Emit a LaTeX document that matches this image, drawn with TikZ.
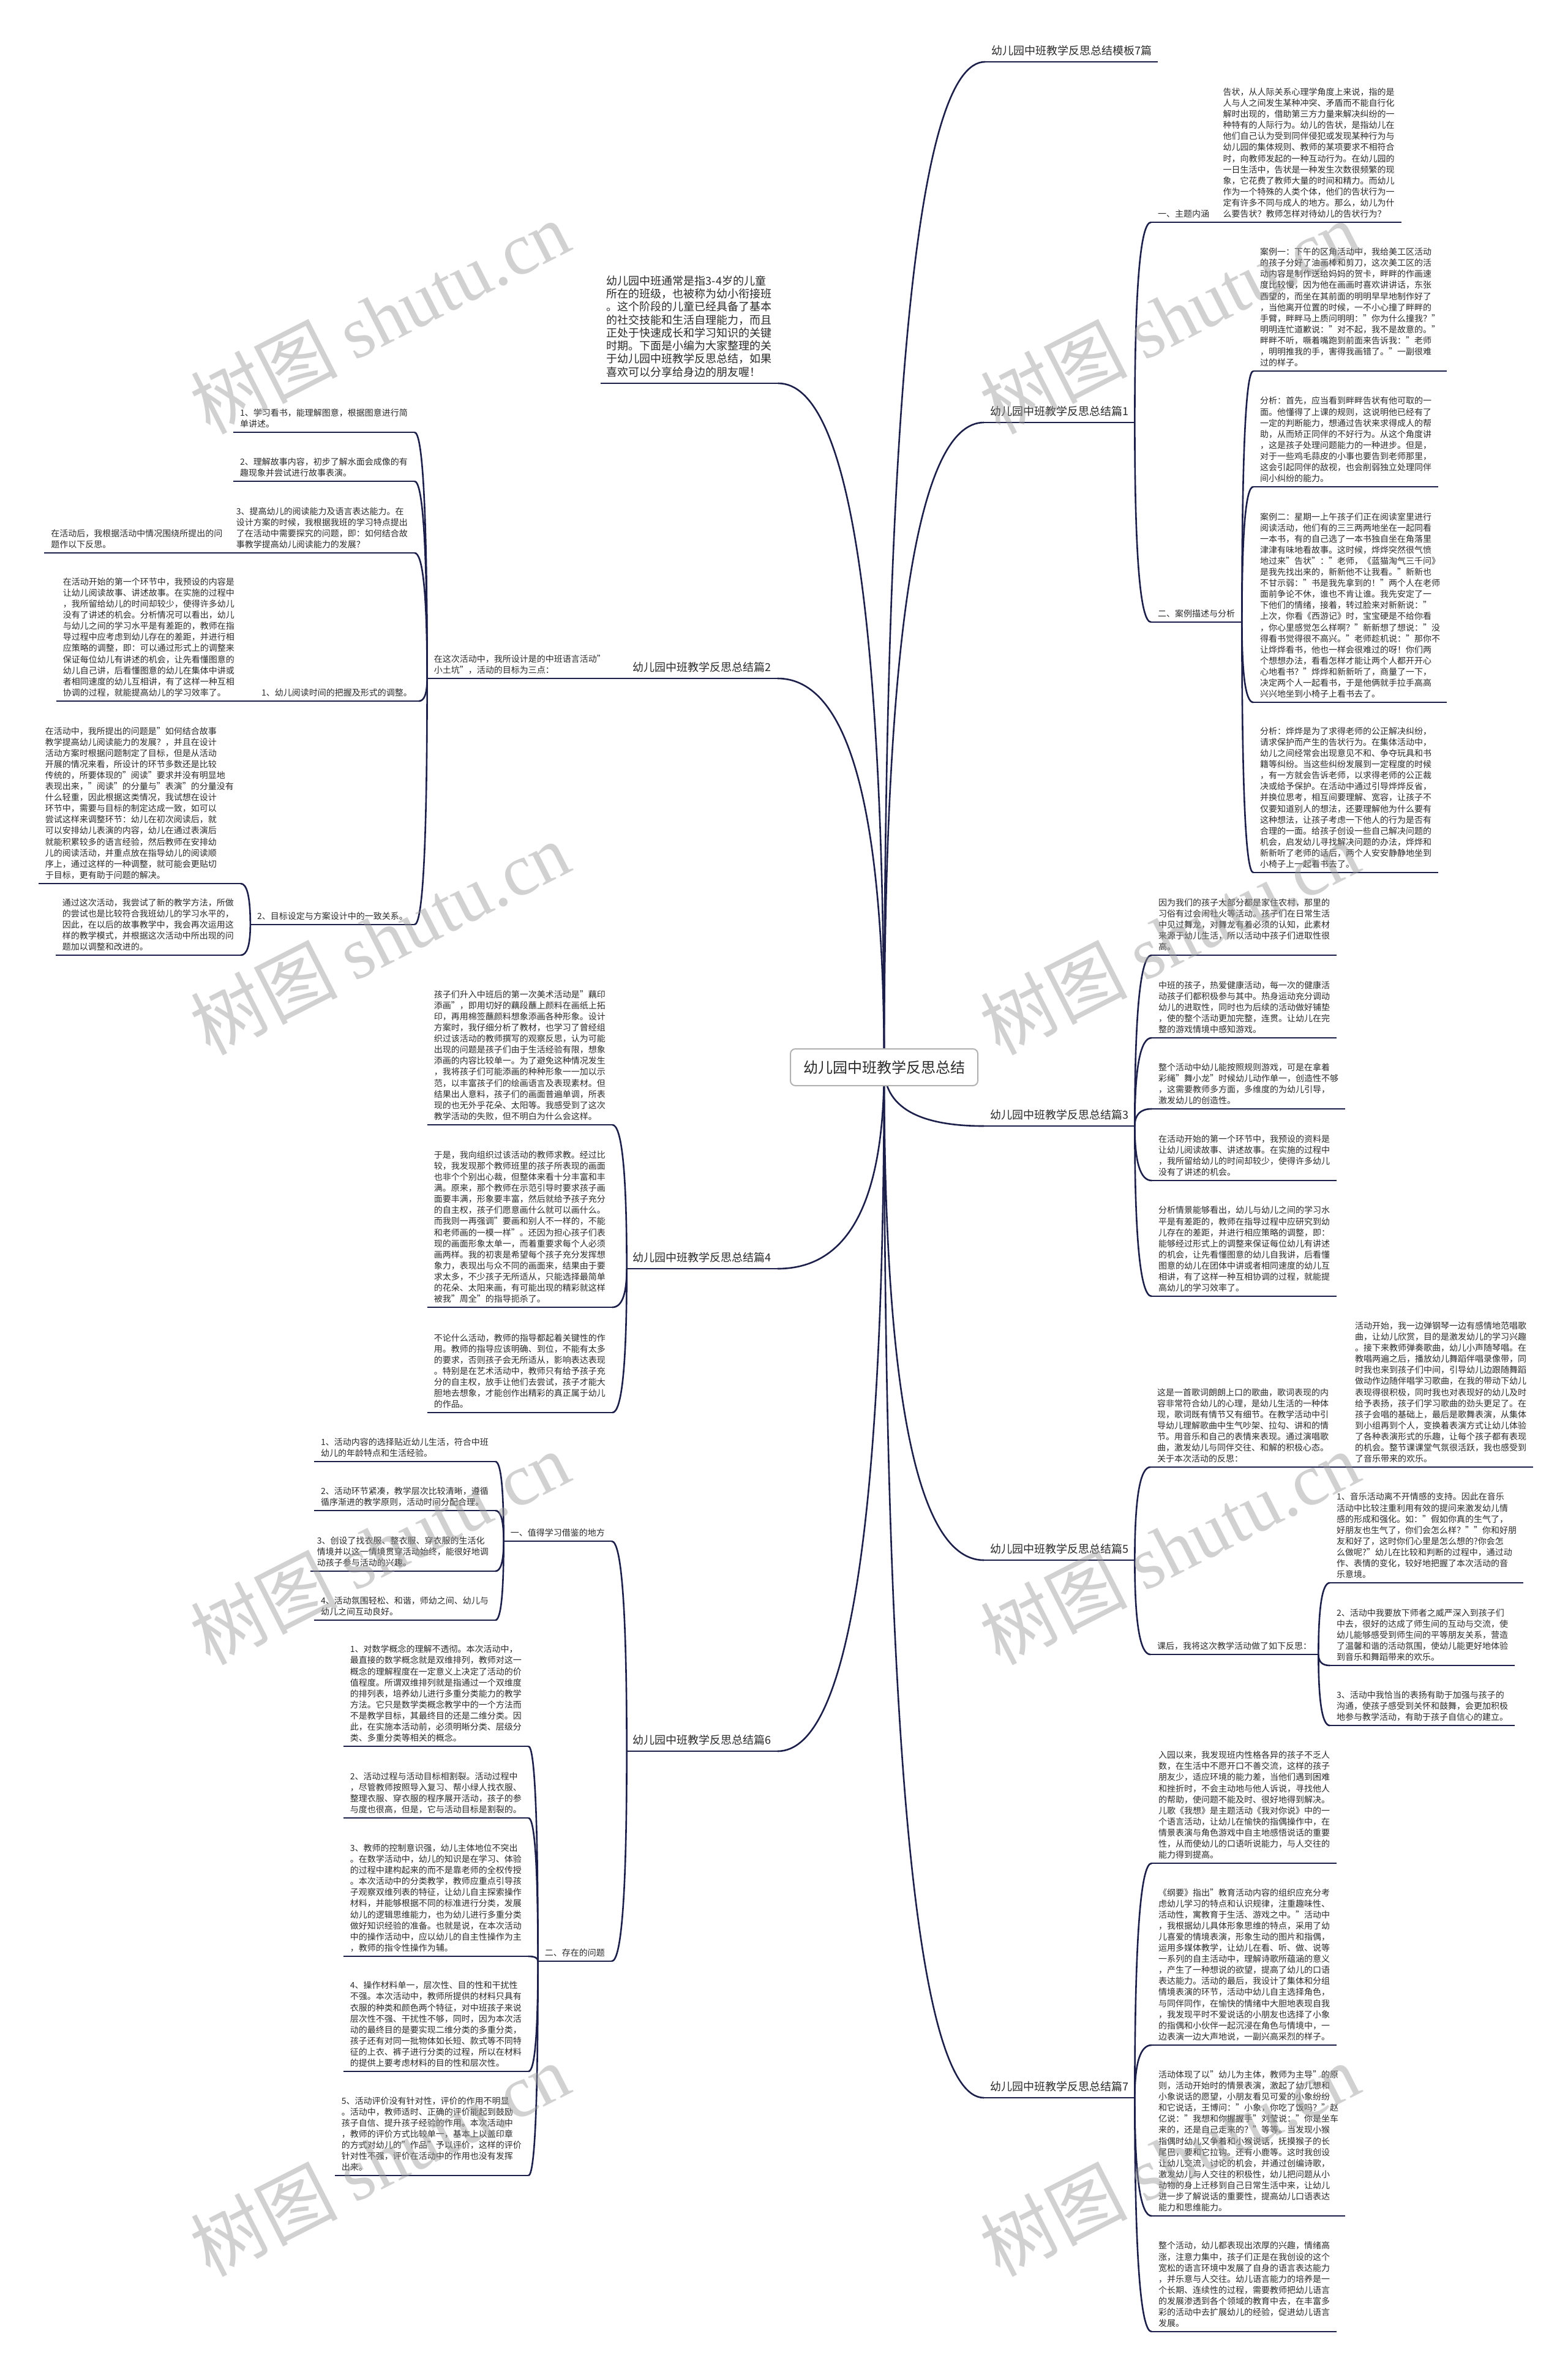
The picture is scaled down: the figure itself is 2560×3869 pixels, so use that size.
\documentclass[tikz,border=0pt]{standalone}
\usepackage{fontspec}
\setmainfont{Noto Sans CJK SC}
\newfontfamily\wmlatin{Liberation Serif}
\usetikzlibrary{calc,backgrounds}

\definecolor{navy}{HTML}{1C1F4A}
\definecolor{ink}{HTML}{2B2B2B}

\newcommand\fbig{\fontsize{24}{28}\selectfont}
\newcommand\fmid{\fontsize{18}{21.3}\selectfont}
\newcommand\fsml{\fontsize{14}{18.1}\selectfont}

\begin{document}
\begin{tikzpicture}[x=1pt,y=-1pt,
    wire/.style={draw=navy,line width=2.6pt},
    branch/.style={to path={.. controls ($(\tikztostart)!0.6667!(\tikztostart|-\tikztotarget)$) and ($(\tikztotarget)!0.6667!(\tikztostart|-\tikztotarget)$) .. (\tikztotarget)}},
    root/.style={draw=gray!60,line width=2pt,rounded corners=8pt,fill=white,text=ink,font=\fbig,minimum width=306pt,minimum height=60pt},
    leafr/.style={anchor=south west,align=left,text=ink,font=\fsml,inner xsep=11pt,inner ysep=7pt},
    leafl/.style={leafr,anchor=south east},
    mainr/.style={leafr,font=\fmid,inner xsep=10pt,inner ysep=10pt},
    mainl/.style={mainr,anchor=south east},
    wmark/.style={text=black!40,text opacity=0.45,rotate=27,font=\fontsize{120}{120}\selectfont}]
\useasboundingbox (0,0) rectangle (2560,3869);

% centre
\node[root] (root) at (1444,1743) {幼儿园中班教学反思总结};

% title and intro
\node[mainr] (r0) at (1609,101) {幼儿园中班教学反思总结模板7篇};
\node[mainl] (intro) at (1271,626) {幼儿园中班通常是指3-4岁的儿童\\所在的班级，也被称为幼小衔接班\\。这个阶段的儿童已经具备了基本\\的社交技能和生活自理能力，而且\\正处于快速成长和学习知识的关键\\时期。下面是小编为大家整理的关\\于幼儿园中班教学反思总结，如果\\喜欢可以分享给身边的朋友喔！};

% piece 1
\node[mainr] (r1) at (1607,690) {幼儿园中班教学反思总结篇1};
\node[leafr] (r1a) at (1880,363) {一、主题内涵};
\node[leafr] (r1a1) at (r1a.south east) {告状，从人际关系心理学角度上来说，指的是\\人与人之间发生某种冲突、矛盾而不能自行化\\解时出现的，借助第三方力量来解决纠纷的一\\种特有的人际行为。幼儿的告状，是指幼儿在\\他们自己认为受到同伴侵犯或发现某种行为与\\幼儿园的集体规则、教师的某项要求不相符合\\时，向教师发起的一种互动行为。在幼儿园的\\一日生活中，告状是一种发生次数很频繁的现\\象，它花费了教师大量的时间和精力。而幼儿\\作为一个特殊的人类个体，他们的告状行为一\\定有许多不同与成人的地方。那么，幼儿为什\\么要告状？教师怎样对待幼儿的告状行为？};
\node[leafr] (r1b) at (1880,1016) {二、案例描述与分析};
\node[leafr] (r1b1) at (2047,606) {案例一：下午的区角活动中，我给美工区活动\\的孩子分好了油画棒和剪刀，这次美工区的活\\动内容是制作送给妈妈的贺卡，畔畔的作画速\\度比较慢，因为他在画画时喜欢讲讲话，东张\\西望的，而坐在其前面的明明早早地制作好了\\，当他离开位置的时候，一不小心撞了畔畔的\\手臂，畔畔马上质问明明："你为什么撞我？"\\明明连忙道歉说："对不起，我不是故意的。"\\畔畔不听，噘着嘴跑到前面来告诉我："老师\\，明明推我的手，害得我画错了。"一副很难\\过的样子。};
\node[leafr] (r1b2) at (2047,795) {分析：首先，应当看到畔畔告状有他可取的一\\面。他懂得了上课的规则，这说明他已经有了\\一定的判断能力，想通过告状来求得成人的帮\\助，从而矫正同伴的不好行为。从这个角度讲\\，这是孩子处理问题能力的一种进步。但是，\\对于一些鸡毛蒜皮的小事也要告到老师那里，\\这会引起同伴的敌视，也会削弱独立处理同伴\\间小纠纷的能力。};
\node[leafr] (r1b3) at (2047,1147) {案例二：星期一上午孩子们正在阅读室里进行\\阅读活动，他们有的三三两两地坐在一起同看\\一本书，有的自己选了一本书独自坐在角落里\\津津有味地看故事。这时候，烨烨突然很气愤\\地过来"告状"："老师，《蓝猫淘气三千问》\\是我先找出来的，新新他不让我看。"新新也\\不甘示弱："书是我先拿到的！"两个人在老师\\面前争论不休，谁也不肯让谁。我先安定了一\\下他们的情绪，接着，转过脸来对新新说："\\上次，你看《西游记》时，宝宝硬是不给你看\\，你心里感觉怎么样啊？"新新想了想说："没\\得看书觉得很不高兴。"老师趁机说："那你不\\让烨烨看书，他也一样会很难过的呀！你们两\\个想想办法，看看怎样才能让两个人都开开心\\心地看书？"烨烨和新新听了，商量了一下，\\决定两个人一起看书，于是他俩就手拉手高高\\兴兴地坐到小椅子上看书去了。};
\node[leafr] (r1b4) at (2047,1425) {分析：烨烨是为了求得老师的公正解决纠纷，\\请求保护而产生的告状行为。在集体活动中，\\幼儿之间经常会出现意见不和、争夺玩具和书\\籍等纠纷。当这些纠纷发展到一定程度的时候\\，有一方就会告诉老师，以求得老师的公正裁\\决或给予保护。在活动中通过引导烨烨反省，\\并换位思考，相互间要理解、宽容，让孩子不\\仅要知道别人的想法，还要理解他为什么要有\\这种想法，让孩子考虑一下他人的行为是否有\\合理的一面。给孩子创设一些自己解决问题的\\机会，启发幼儿寻找解决问题的办法，烨烨和\\新新听了老师的话后，两个人安安静静地坐到\\小椅子上一起看书去了。};

% piece 2
\node[mainl] (l2) at (1270,1108) {幼儿园中班教学反思总结篇2};
\node[leafl] (l2a) at (1000,1108) {在这次活动中，我所设计是的中班语言活动"\\小土坑"，活动的目标为三点：};
\node[leafl] (l2a1) at (677,706) {1、学习看书，能理解图意，根据图意进行简\\单讲述。};
\node[leafl] (l2a2) at (677,786) {2、理解故事内容，初步了解水面会成像的有\\趣现象并尝试进行故事表演。};
\node[leafl] (l2a3) at (677,903) {3、提高幼儿的阅读能力及语言表达能力。在\\设计方案的时候，我根据我班的学习特点提出\\了在活动中需要探究的问题，即：如何结合故\\事教学提高幼儿阅读能力的发展？};
\node[leafl] (l2a3c) at (l2a3.south west) {在活动后，我根据活动中情况围绕所提出的问\\题作以下反思。};
\node[leafl] (l2a4) at (684,1145) {1、幼儿阅读时间的把握及形式的调整。};
\node[leafl] (l2a4c) at (394,1145) {在活动开始的第一个环节中，我预设的内容是\\让幼儿阅读故事、讲述故事。在实施的过程中\\，我所留给幼儿的时间却较少，使得许多幼儿\\没有了讲述的机会。分析情况可以看出，幼儿\\与幼儿之间的学习水平是有差距的，教师在指\\导过程中应考虑到幼儿存在的差距，并进行相\\应策略的调整，即：可以通过形式上的调整来\\保证每位幼儿有讲述的机会，让先看懂图意的\\幼儿自己讲，后看懂图意的幼儿在集体中讲或\\者相同速度的幼儿互相讲，有了这样一种互相\\协调的过程，就能提高幼儿的学习效率了。};
\node[leafl] (l2a5) at (677,1510) {2、目标设定与方案设计中的一致关系。};
\node[leafl] (l2a5a) at (393,1443) {在活动中，我所提出的问题是"如何结合故事\\教学提高幼儿阅读能力的发展？，并且在设计\\活动方案时根据问题制定了目标，但是从活动\\开展的情况来看，所设计的环节多数还是比较\\传统的，所要体现的"阅读"要求并没有明显地\\表现出来，"阅读"的分量与"表演"的分量没有\\什么轻重，因此根据这类情况，我试想在设计\\环节中，需要与目标的制定达成一致，如可以\\尝试这样来调整环节：幼儿在初次阅读后，就\\可以安排幼儿表演的内容，幼儿在通过表演后\\就能积累较多的语言经验，然后教师在安排幼\\儿的阅读活动，并重点放在指导幼儿的阅读顺\\序上，通过这样的一种调整，就可能会更贴切\\于目标，更有助于问题的解决。};
\node[leafl] (l2a5b) at (393,1560) {通过这次活动，我尝试了新的教学方法，所做\\的尝试也是比较符合我班幼儿的学习水平的，\\因此，在以后的故事教学中，我会再次运用这\\样的教学模式，并根据这次活动中所出现的问\\题加以调整和改进的。};

% piece 3
\node[mainr] (r3) at (1607,1839) {幼儿园中班教学反思总结篇3};
\node[leafr] (r3a) at (1881,1560) {因为我们的孩子大部分都是家住农村，那里的\\习俗有过会闹社火等活动。孩子们在日常生活\\中见过舞龙，对舞龙有着必须的认知，此素材\\来源于幼儿生活，所以活动中孩子们进取性很\\高。};
\node[leafr] (r3b) at (1881,1695) {中班的孩子，热爱健康活动，每一次的健康活\\动孩子们都积极参与其中。热身运动充分调动\\幼儿的进取性，同时也为后续的活动做好铺垫\\，使的整个活动更加完整，连贯。让幼儿在完\\整的游戏情境中感知游戏。};
\node[leafr] (r3c) at (1881,1811) {整个活动中幼儿能按照规则游戏，可是在拿着\\彩绳"舞小龙"时候幼儿动作单一，创造性不够\\，这需要教师多方面，多维度的为幼儿引导，\\激发幼儿的创造性。};
\node[leafr] (r3d) at (1881,1928) {在活动开始的第一个环节中，我预设的资料是\\让幼儿阅读故事、讲述故事。在实施的过程中\\，我所留给幼儿的时间却较少，使得许多幼儿\\没有了讲述的机会。};
\node[leafr] (r3e) at (1881,2117) {分析情景能够看出，幼儿与幼儿之间的学习水\\平是有差距的，教师在指导过程中应研究到幼\\儿存在的差距，并进行相应策略的调整，即：\\能够经过形式上的调整来保证每位幼儿有讲述\\的机会，让先看懂图意的幼儿自我讲，后看懂\\图意的幼儿在团体中讲或者相同速度的幼儿互\\相讲，有了这样一种互相协调的过程，就能提\\高幼儿的学习效率了。};

% piece 4
\node[mainl] (l4) at (1270,2072) {幼儿园中班教学反思总结篇4};
\node[leafl] (l4a) at (1000,1837) {孩子们升入中班后的第一次美术活动是"藕印\\添画"，即用切好的藕段蘸上颜料在画纸上拓\\印，再用棉签蘸颜料想象添画各种形象。设计\\方案时，我仔细分析了教材，也学习了曾经组\\织过该活动的教师撰写的观察反思，认为可能\\出现的问题是孩子们由于生活经验有限，想象\\添画的内容比较单一。为了避免这种情况发生\\，我将孩子们可能添画的种种形象一一加以示\\范，以丰富孩子们的绘画语言及表现素材。但\\结果出人意料，孩子们的画面普遍单调，所表\\现的也无外乎花朵、太阳等。我感受到了这次\\教学活动的失败，但不明白为什么会这样。};
\node[leafl] (l4b) at (1000,2135) {于是，我向组织过该活动的教师求教。经过比\\较，我发现那个教师班里的孩子所表现的画面\\也非个个别出心裁，但整体来看十分丰富和丰\\满。原来，那个教师在示范引导时要求孩子画\\面要丰满，形象要丰富，然后就给予孩子充分\\的自主权，孩子们愿意画什么就可以画什么。\\而我则一再强调"要画和别人不一样的，不能\\和老师画的一模一样"。还因为担心孩子们表\\现的画面形象太单一，而着重要求每个人必须\\画两样。我的初衷是希望每个孩子充分发挥想\\象力，表现出与众不同的画面来，结果由于要\\求太多，不少孩子无所适从，只能选择最简单\\的花朵、太阳来画，有可能出现的精彩就这样\\被我"周全"的指导扼杀了。};
\node[leafl] (l4c) at (1000,2307) {不论什么活动，教师的指导都起着关键性的作\\用。教师的指导应该明确、到位，不能有太多\\的要求，否则孩子会无所适从，影响表达表现\\。特别是在艺术活动中，教师只有给予孩子充\\分的自主权，放手让他们去尝试，孩子才能大\\胆地去想象，才能创作出精彩的真正属于幼儿\\的作品。};

% piece 5
\node[mainr] (r5) at (1607,2548) {幼儿园中班教学反思总结篇5};
\node[leafr] (r5a) at (1879,2396) {这是一首歌词朗朗上口的歌曲，歌词表现的内\\容非常符合幼儿的心理，是幼儿生活的一种体\\现，歌词既有情节又有细节。在教学活动中引\\导幼儿理解歌曲中生气吵架、拉勾、讲和的情\\节。用音乐和自己的表情来表现。通过演唱歌\\曲，激发幼儿与同伴交往、和解的积极心态。\\关于本次活动的反思：};
\node[leafr] (r5a1) at (2202,2396) {活动开始，我一边弹钢琴一边有感情地范唱歌\\曲，让幼儿欣赏，目的是激发幼儿的学习兴趣\\。接下来教师弹奏歌曲，幼儿小声随琴唱。在\\教唱两遍之后，播放幼儿舞蹈伴唱录像带，同\\时我也来到孩子们中间，引导幼儿边跟随舞蹈\\做动作边随伴唱学习歌曲，在我的带动下幼儿\\表现得很积极，同时我也对表现好的幼儿及时\\给予表扬，孩子们学习歌曲的劲头更足了。在\\孩子会唱的基础上，最后是歌舞表演，从集体\\到小组再到个人，变换着表演方式让幼儿体验\\了各种表演形式的乐趣，让每个孩子都有表现\\的机会。整节课课堂气氛很活跃，我也感受到\\了音乐带来的欢乐。};
\node[leafr] (r5b) at (1879,2702) {课后，我将这次教学活动做了如下反思：};
\node[leafr] (r5b1) at (2172,2585) {1、音乐活动离不开情感的支持。因此在音乐\\活动中比较注重利用有效的提问来激发幼儿情\\感的形成和强化。如："假如你真的生气了，\\好朋友也生气了，你们会怎么样？""你和好朋\\友和好了，这时你们心里是怎么想的?你会怎\\么做呢?"幼儿在比较和判断的过程中，通过动\\作、表情的变化，较好地把握了本次活动的音\\乐意境。};
\node[leafr] (r5b2) at (2172,2720) {2、活动中我要放下师者之威严深入到孩子们\\中去，很好的达成了师生间的互动与交流，使\\幼儿能够感受到师生间的平等朋友关系，营造\\了温馨和谐的活动氛围，使幼儿能更好地体验\\到音乐和舞蹈带来的欢乐。};
\node[leafr] (r5b3) at (2172,2818) {3、活动中我恰当的表扬有助于加强与孩子的\\沟通，使孩子感受到关怀和鼓舞，会更加积极\\地参与教学活动，有助于孩子自信心的建立。};

% piece 6
\node[mainl] (l6) at (1270,2860) {幼儿园中班教学反思总结篇6};
\node[leafl] (l6a) at (999,2517) {一、值得学习借鉴的地方};
\node[leafl] (l6a1) at (809,2387) {1、活动内容的选择贴近幼儿生活，符合中班\\幼儿的年龄特点和生活经验。};
\node[leafl] (l6a2) at (809,2467) {2、活动环节紧凑，教学层次比较清晰，遵循\\循序渐进的教学原则，活动时间分配合理。};
\node[leafl] (l6a3) at (809,2566) {3、创设了找衣服、整衣服、穿衣服的生活化\\情境并以这一情境贯穿活动始终，能很好地调\\动孩子参与活动的兴趣。};
\node[leafl] (l6a4) at (809,2646) {4、活动氛围轻松、和谐，师幼之间、幼儿与\\幼儿之间互动良好。};
\node[leafl] (l6b) at (999,3203) {二、存在的问题};
\node[leafl] (l6b1) at (863,2852) {1、对数学概念的理解不透彻。本次活动中，\\最直接的数学概念就是双维排列，教师对这一\\概念的理解程度在一定意义上决定了活动的价\\值程度。所谓双维排列就是指通过一个双维度\\的排列表，培养幼儿进行多重分类能力的教学\\方法。它只是数学类概念教学中的一个方法而\\不是教学目标，其最终目的还是二维分类。因\\此，在实施本活动前，必须明晰分类、层级分\\类、多重分类等相关的概念。};
\node[leafl] (l6b2) at (863,2969) {2、活动过程与活动目标相割裂。活动过程中\\，尽管教师按照导入复习、帮小绿人找衣服、\\整理衣服、穿衣服的程序展开活动，孩子的参\\与度也很高，但是，它与活动目标是割裂的。};
\node[leafl] (l6b3) at (863,3195) {3、教师的控制意识强，幼儿主体地位不突出\\。在数学活动中，幼儿的知识是在学习、体验\\的过程中建构起来的而不是靠老师的全权传授\\。本次活动中的分类教学，教师应重点引导孩\\子观察双维列表的特征，让幼儿自主探索操作\\材料，并能够根据不同的标准进行分类，发展\\幼儿的逻辑思维能力，也为幼儿进行多重分类\\做好知识经验的准备。也就是说，在本次活动\\中的操作活动中，应以幼儿的自主性操作为主\\，教师的指令性操作为辅。};
\node[leafl] (l6b4) at (863,3383) {4、操作材料单一，层次性、目的性和干扰性\\不强。本次活动中，教师所提供的材料只具有\\衣服的种类和颜色两个特征，对中班孩子来说\\层次性不强、干扰性不够，同时，因为本次活\\动的最终目的是要实现二维分类的多重分类，\\孩子还有对同一批物体如长短、款式等不同特\\征的上衣、裤子进行分类的过程，所以在材料\\的提供上要考虑材料的目的性和层次性。};
\node[leafl] (l6b5) at (863,3553) {5、活动评价没有针对性，评价的作用不明显\\。活动中，教师适时、正确的评价能起到鼓励\\孩子自信、提升孩子经验的作用。本次活动中\\，教师的评价方式比较单一，基本上以盖印章\\的方式对幼儿的"作品"予以评价，这样的评价\\针对性不强，评价在活动中的作用也没有发挥\\出来。};

% piece 7
\node[mainr] (r7) at (1607,3426) {幼儿园中班教学反思总结篇7};
\node[leafr] (r7a) at (1881,3043) {入园以来，我发现班内性格各异的孩子不乏人\\数，在生活中不愿开口不善交流，这样的孩子\\朋友少，适应环境的能力差，当他们遇到困难\\和挫折时，不会主动地与他人诉说，寻找他人\\的帮助，使问题不能及时、很好地得到解决。\\儿歌《我想》是主题活动《我对你说》中的一\\个语言活动，让幼儿在愉快的指偶操作中，在\\情景表演与角色游戏中自主地感悟说话的重要\\性，从而使幼儿的口语听说能力，与人交往的\\能力得到提高。};
\node[leafr] (r7b) at (1881,3340) {《纲要》指出"教育活动内容的组织应充分考\\虑幼儿学习的特点和认识规律，注重趣味性、\\活动性，寓教育于生活、游戏之中。"活动中\\，我根据幼儿具体形象思维的特点，采用了幼\\儿喜爱的情境表演，形象生动的图片和指偶，\\运用多媒体教学，让幼儿在看、听、做、说等\\一系列的自主活动中，理解诗歌所蕴涵的意义\\，产生了一种想说的欲望，提高了幼儿的口语\\表达能力。活动的最后，我设计了集体和分组\\情境表演的环节，活动中幼儿自主选择角色，\\与同伴同作，在愉快的情绪中大胆地表现自我\\，我发现平时不爱说话的小朋友也选择了小象\\的指偶和小伙伴一起沉浸在角色与情境中，一\\边表演一边大声地说，一副兴高采烈的样子。};
\node[leafr] (r7c) at (1881,3619) {活动体现了以"幼儿为主体，教师为主导"的原\\则，活动开始时的情景表演，激起了幼儿想和\\小象说话的愿望，小朋友看见可爱的小象纷纷\\和它说话，王博问："小象，你吃了饭吗？"赵\\亿说："我想和你握握手"刘莹说："你是坐车\\来的，还是自己走来的？"等等。当发现小猴\\指偶时幼儿又争着和小猴说话，抚摸猴子的长\\尾巴，要和它拉钩。还有小鹿等。这时我创设\\让幼儿交流，讨论的机会，并通过创编诗歌，\\激发幼儿与人交往的积极性，幼儿把问题从小\\动物的身上迁移到自己日常生活中来，让幼儿\\进一步了解说话的重要性，提高幼儿口语表达\\能力和思维能力。};
\node[leafr] (r7d) at (1881,3808) {整个活动，幼儿都表现出浓厚的兴趣，情绪高\\涨，注意力集中，孩子们正是在我创设的这个\\宽松的语言环境中发展了自身的语言表达能力\\，并乐意与人交往。幼儿语言能力的培养是一\\个长期、连续性的过程，需要教师把幼儿语言\\的发展渗透到各个领域的教育中去，在丰富多\\彩的活动中去扩展幼儿的经验，促进幼儿语言\\发展。};

% lines go under the text
\begin{scope}[on background layer]
  \fill[white] (0,0) rectangle (2560,3869);
  % from the centre
  \foreach \b in {r0,r1,r3,r5,r7}
    \draw[wire] (root.center) to[branch] (\b.south west);
  \foreach \b in {intro,l2,l4,l6}
    \draw[wire] (root.center) to[branch] (\b.south east);
  % right side
  \foreach \c in {r1a,r1b}
    \draw[wire] (r1.south east) to[branch] (\c.south west);
  \foreach \c in {r1b1,r1b2,r1b3,r1b4}
    \draw[wire] (r1b.south east) to[branch] (\c.south west);
  \foreach \c in {r3a,r3b,r3c,r3d,r3e}
    \draw[wire] (r3.south east) to[branch] (\c.south west);
  \foreach \c in {r5a,r5b}
    \draw[wire] (r5.south east) to[branch] (\c.south west);
  \draw[wire] (r5a.south east) -- (r5a1.south west);
  \foreach \c in {r5b1,r5b2,r5b3}
    \draw[wire] (r5b.south east) to[branch] (\c.south west);
  \foreach \c in {r7a,r7b,r7c,r7d}
    \draw[wire] (r7.south east) to[branch] (\c.south west);
  % left side
  \draw[wire] (l2.south west) -- (l2a.south east);
  \foreach \c in {l2a1,l2a2,l2a3,l2a4,l2a5}
    \draw[wire] (l2a.south west) to[branch] (\c.south east);
  \draw[wire] (l2a4.south west) -- (l2a4c.south east);
  \foreach \c in {l2a5a,l2a5b}
    \draw[wire] (l2a5.south west) to[branch] (\c.south east);
  \foreach \c in {l4a,l4b,l4c}
    \draw[wire] (l4.south west) to[branch] (\c.south east);
  \foreach \c in {l6a,l6b}
    \draw[wire] (l6.south west) to[branch] (\c.south east);
  \foreach \c in {l6a1,l6a2,l6a3,l6a4}
    \draw[wire] (l6a.south west) to[branch] (\c.south east);
  \foreach \c in {l6b1,l6b2,l6b3,l6b4,l6b5}
    \draw[wire] (l6b.south west) to[branch] (\c.south east);
  % underlines
  \foreach \n in {r0,r1,r1a,r1a1,r1b,r1b1,r1b2,r1b3,r1b4,r3,r3a,r3b,r3c,r3d,r3e,
      r5,r5a,r5a1,r5b,r5b1,r5b2,r5b3,r7,r7a,r7b,r7c,r7d,
      intro,l2,l2a,l2a1,l2a2,l2a3,l2a3c,l2a4,l2a4c,l2a5,l2a5a,l2a5b,
      l4,l4a,l4b,l4c,l6,l6a,l6a1,l6a2,l6a3,l6a4,l6b,l6b1,l6b2,l6b3,l6b4,l6b5}
    \draw[wire] (\n.south west) -- (\n.south east);
\end{scope}

% watermark
\foreach \wy in {518,1532,2528,3527}
  \foreach \wx in {620,1910}
    \node[wmark] (wm\wx\wy) at (\wx,\wy) {树图 {\wmlatin shutu.cn}};
\end{tikzpicture}
\end{document}
